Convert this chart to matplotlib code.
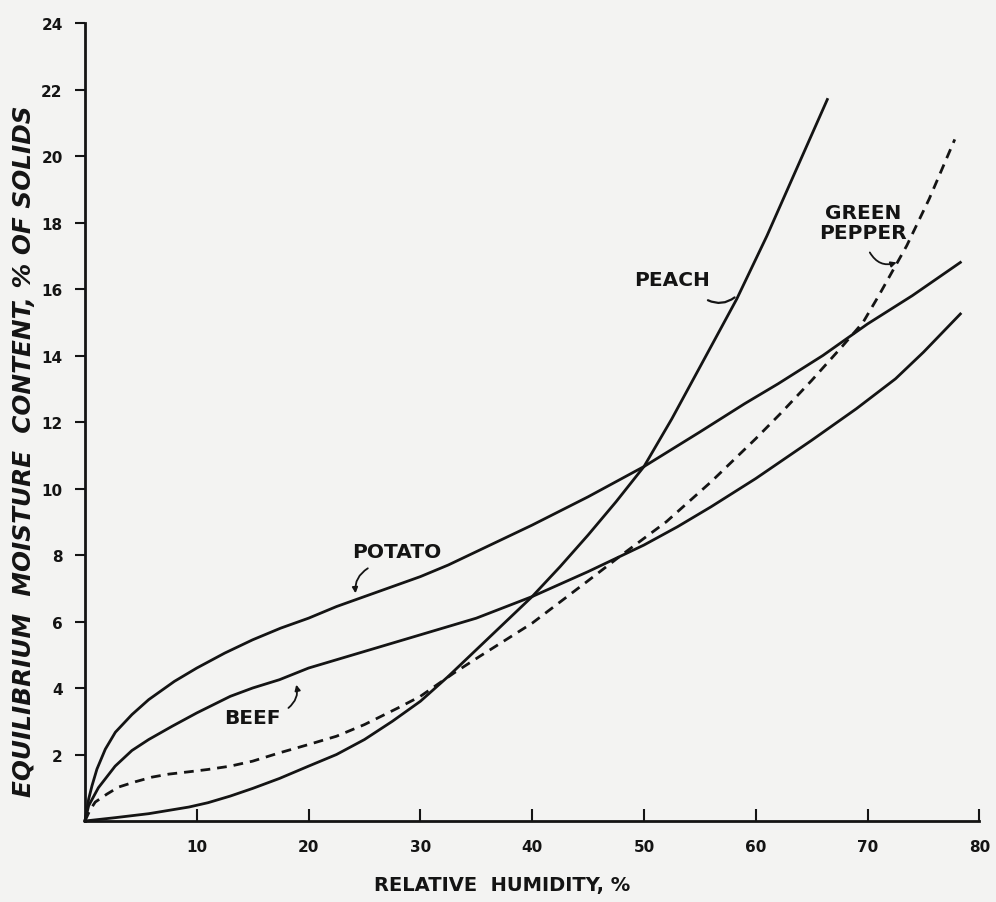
"""
Equilibrium moisture content of dehydrated foods against relative humidity.
"""
import matplotlib
matplotlib.use('Agg')
import matplotlib.pyplot as plt

# Relative humidity (%) and moisture content (% of solids)
potato_rh = [0, 0.33, 0.63, 1.07, 1.82, 2.72, 4.2, 5.7, 8, 10, 12.5, 15, 17.5, 20,
             22.5, 25, 27.5, 30, 32.5, 35, 37.5, 40, 45, 50, 55, 59, 62, 66, 70,
             74, 78.3]
potato_mc = [0, 0.66, 1.06, 1.56, 2.16, 2.67, 3.2, 3.65, 4.2, 4.6, 5.05, 5.45, 5.8,
             6.1, 6.45, 6.75, 7.05, 7.35, 7.7, 8.1, 8.5, 8.9, 9.75, 10.66, 11.7,
             12.55, 13.15, 14.0, 14.95, 15.8, 16.8]

beef_rh = [0, 0.33, 1.2, 2.7, 4.2, 5.7, 7.8, 10, 13, 15, 17.4, 20, 25, 30, 35, 40,
           45, 50, 53, 56, 60, 65, 69, 72.5, 75, 78.3]
beef_mc = [0, 0.46, 1.0, 1.65, 2.12, 2.45, 2.85, 3.25, 3.75, 4.0, 4.25, 4.6, 5.1,
           5.6, 6.1, 6.75, 7.5, 8.3, 8.85, 9.45, 10.3, 11.45, 12.4, 13.3, 14.1,
           15.25]

pepper_rh = [0, 0.45, 0.92, 1.97, 3.0, 4.5, 6.0, 7.5, 9.3, 11, 13, 15, 17.4, 20,
             22.5, 25, 28, 30, 33, 35.3, 40, 44.9, 48, 52, 56, 60, 62.2, 65, 67.8,
             69.6, 71, 73.5, 75.5, 77.8]
pepper_mc = [0, 0.33, 0.57, 0.81, 1.02, 1.18, 1.32, 1.41, 1.48, 1.55, 1.65, 1.8,
             2.05, 2.3, 2.55, 2.9, 3.4, 3.75, 4.45, 4.95, 5.95, 7.2, 8.0, 9.0, 10.2,
             11.5, 12.25, 13.25, 14.3, 15.0, 15.8, 17.3, 18.7, 20.5]

peach_rh = [0, 2.7, 5.7, 9.3, 11, 13, 15, 17.4, 20, 22.5, 25, 27.5, 30, 32.5, 35,
            37.5, 40, 42.5, 45, 47.5, 50, 52.5, 55, 58.3, 61, 63.5, 66.4]
peach_mc = [0, 0.1, 0.22, 0.42, 0.55, 0.75, 0.98, 1.28, 1.65, 2.0, 2.45, 3.0, 3.6,
            4.35, 5.15, 5.95, 6.75, 7.65, 8.6, 9.6, 10.66, 12.1, 13.65, 15.7, 17.6,
            19.5, 21.7]

x_ticks = [10, 20, 30, 40, 50, 60, 70, 80]
y_ticks = [2, 4, 6, 8, 10, 12, 14, 16, 18, 20, 22, 24]

INK = '#141414'
PAPER = '#f3f3f2'
LETTERING = dict(family='DejaVu Sans', fontweight='bold', color=INK)

fig = plt.figure(figsize=(9.96, 9.03), dpi=100, facecolor=PAPER)
ax = fig.add_axes([0.0853, 0.0897, 0.898, 0.8837])
ax.set_facecolor(PAPER)

# Curves
ax.plot(potato_rh, potato_mc, color=INK, linewidth=2.0, clip_on=False)
ax.plot(beef_rh, beef_mc, color=INK, linewidth=2.0, clip_on=False)
ax.plot(peach_rh, peach_mc, color=INK, linewidth=2.0, clip_on=False)
ax.plot(pepper_rh, pepper_mc, color=INK, linewidth=2.0, clip_on=False,
        linestyle=(0, (3.5, 2.5)))

ax.set_xlim(0, 80)
ax.set_ylim(0, 24)

# Axes frame: only left and bottom
for side in ('top', 'right'):
    ax.spines[side].set_visible(False)
for side in ('left', 'bottom'):
    ax.spines[side].set_linewidth(2.0)
    ax.spines[side].set_color(INK)

ax.set_xticks(x_ticks)
ax.set_yticks(y_ticks)
ax.set_xticklabels([str(t) for t in x_ticks], fontsize=11, **LETTERING)
ax.set_yticklabels([str(t) for t in y_ticks], fontsize=11, **LETTERING)
ax.tick_params(axis='x', direction='in', length=9, width=1.5, pad=13, colors=INK)
ax.tick_params(axis='y', direction='out', length=7, width=1.5, pad=9, colors=INK)

ax.set_xlabel('RELATIVE  HUMIDITY, %', fontsize=14, **LETTERING)
ax.xaxis.set_label_coords(0.466, -0.079)
ax.xaxis.label.set_verticalalignment('center')

ax.set_ylabel('EQUILIBRIUM  MOISTURE  CONTENT, % OF SOLIDS', style='italic',
              fontsize=17.8, **LETTERING)
ax.yaxis.set_label_coords(-0.068, 0.465)
ax.yaxis.label.set_verticalalignment('center')

# Curve labels with small hand-style pointers
label_kw = dict(fontsize=14.5, ha='center', va='center', **LETTERING)
ax.text(27.9, 8.1, 'POTATO', **label_kw)
ax.text(15.0, 3.1, 'BEEF', **label_kw)
ax.text(52.5, 16.3, 'PEACH', **label_kw)
ax.text(69.6, 18.0, 'GREEN\nPEPPER', linespacing=1.05, **label_kw)

arrow_kw = dict(arrowstyle='-|>', color=INK, lw=1.3, mutation_scale=8,
                shrinkA=0, shrinkB=0)
ax.annotate('', xy=(24.2, 6.85), xytext=(25.3, 7.6),
            arrowprops=dict(connectionstyle='arc3,rad=0.3', **arrow_kw))
ax.annotate('', xy=(18.9, 4.1), xytext=(18.2, 3.4),
            arrowprops=dict(connectionstyle='arc3,rad=0.3', **arrow_kw))
ax.annotate('', xy=(58.3, 15.8), xytext=(55.5, 15.7),
            arrowprops=dict(connectionstyle='arc3,rad=0.35', arrowstyle='-',
                            color=INK, lw=1.6))
ax.annotate('', xy=(72.6, 16.8), xytext=(70.2, 17.1),
            arrowprops=dict(connectionstyle='arc3,rad=0.4', **arrow_kw))

fig.savefig('out.png', dpi=100, facecolor=PAPER)
plt.close(fig)
